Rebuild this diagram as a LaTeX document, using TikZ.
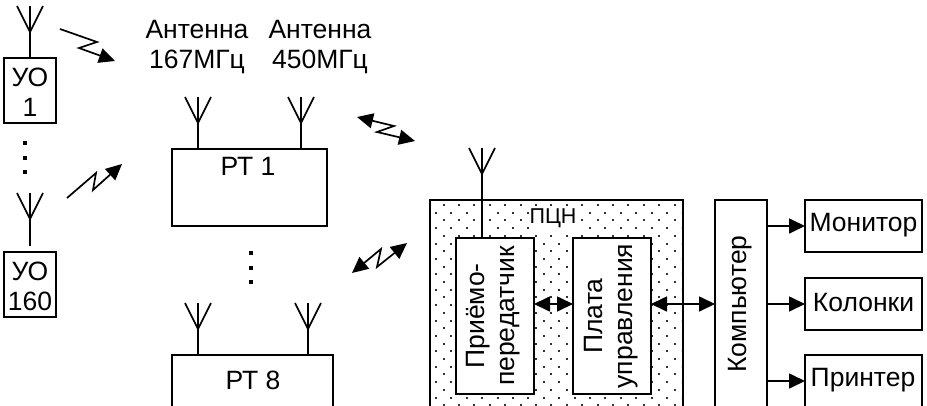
\documentclass[tikz,border=0pt]{standalone}
\usepackage{fontspec}
\setmainfont{Liberation Sans}
\usetikzlibrary{positioning,arrows.meta}

\tikzset{
	box/.style={rectangle, draw, line width=1.6pt, inner sep=0pt, outer sep=0pt, fill=white},
	txt/.style={font=\fontsize{26.5}{30}\selectfont, align=center, inner sep=0pt},
	wire/.style={line width=1.6pt},
	link/.style={line width=1.7pt, -{Triangle[length=16pt,width=15pt]}},
	biglink/.style={line width=1.7pt, {Triangle[length=16pt,width=15pt]}-{Triangle[length=16pt,width=15pt]}},
}

\begin{document}
\begin{tikzpicture}[x=1pt, y=-1pt]
	\useasboundingbox (0,0) rectangle (927,405);
	\clip (0,0) rectangle (927,405);
	% ПЦН
	\node[box, minimum width=253pt, minimum height=240pt] (PCN) at (556.5,320) {};
	\begin{scope}
		\clip (432,202) rectangle (681,405);
		\foreach \dr in {0,...,26} {
			\foreach \dc in {0,...,16} {
				\fill[black!80] ({443.5+15.4*\dc-1},{205+15.4*\dr-1}) rectangle ++(2,2);
				\fill[black!80] ({436+15.4*\dc-1},{212.7+15.4*\dr-1}) rectangle ++(2,2);
			}
		}
	\end{scope}
	\node[inner sep=1pt, fill=white, font=\fontsize{21.5}{24}\selectfont] (PCNlabel) at (553,218) {ПЦН};
	% boxes
	\node[box, minimum width=52pt, minimum height=65pt] (UO1) at (30,90.5) {};
	\node[txt] at (30,92) {УО\\1};
	\node[box, minimum width=52pt, minimum height=65pt] (UO160) at (30,284.5) {};
	\node[txt] at (30,286) {УО\\160};
	\node[box, minimum width=155pt, minimum height=77pt] (RT1) at (249.5,187.5) {};
	\node[txt] at (248,166) {РТ 1};
	\node[box, minimum width=161pt, minimum height=70pt] (RT8) at (252.5,390) {};
	\node[txt] at (253,380) {РТ 8};
	\node[txt] (A167) at (197,47) {Антенна\\167МГц};
	\node[txt] (A450) at (320,47) {Антенна\\450МГц};
	\node[box, minimum width=78pt, minimum height=156pt] (TR) at (495,316) {};
	\node[txt, rotate=90] at (493,316) {Приёмо-\\передатчик};
	\node[box, minimum width=78pt, minimum height=156pt] (PU) at (612,316) {};
	\node[txt, rotate=90] at (611,316) {Плата\\управления};
	\node[box, minimum width=52pt, minimum height=230pt] (PC) at (741,315) {};
	\node[txt, rotate=90] at (740,304) {Компьютер};
	\node[box, minimum width=117pt, minimum height=52pt] (MON) at (863.5,226) {};
	\node[txt] at (863.5,225) {Монитор};
	\node[box, minimum width=117pt, minimum height=52pt] (KOL) at (863.5,304) {};
	\node[txt] at (863.5,303) {Колонки};
	\node[box, minimum width=117pt, minimum height=70pt] (PRN) at (863.5,390) {};
	\node[txt] at (863,380) {Принтер};
	% antennas
	\foreach \an/\ax/\ay/\bx in {a/30/6/UO1, c/198/97/RT1, d/301/97/RT1, e/198/303/RT8, f/308/303/RT8, g/482/148/TR} {
		\coordinate (ant\an) at (\ax,\ay);
		\draw[wire] (\ax-13,\ay) -- (\ax,\ay+26) -- (\ax+13,\ay);
		\draw[wire] (ant\an) -- (ant\an |- \bx.north);
	}
	\coordinate (antb) at (30,193);
	\coordinate (antbend) at (30,246);
	\draw[wire] (17,193) -- (30,219) -- (43,193);
	\draw[wire] (antb) -- (antbend);
	% dots
	\foreach \dy in {143,158,172} {
		\fill (23,\dy-2) rectangle ++(4,4);
		\fill (249,\dy+108) rectangle ++(4,4);
	}
	% radio links
	\coordinate (z1a) at (60,29);
	\coordinate (z1b) at (97,42);
	\coordinate (z1c) at (79,48);
	\coordinate (z1d) at (115,61);
	\draw[link] (z1a) -- (z1b) -- (z1c) -- (z1d);
	\coordinate (z2a) at (67,198);
	\coordinate (z2b) at (96,173);
	\coordinate (z2c) at (93,190);
	\coordinate (z2d) at (122,164);
	\draw[link] (z2a) -- (z2b) -- (z2c) -- (z2d);
	\coordinate (z3a) at (357,117);
	\coordinate (z3b) at (394,126);
	\coordinate (z3c) at (377,132);
	\coordinate (z3d) at (415,141);
	\draw[biglink] (z3a) -- (z3b) -- (z3c) -- (z3d);
	\coordinate (z4a) at (352,273);
	\coordinate (z4b) at (381,249);
	\coordinate (z4c) at (377,267);
	\coordinate (z4d) at (407,243);
	\draw[biglink] (z4a) -- (z4b) -- (z4c) -- (z4d);
	% connections
	\draw[biglink] (TR.east |- 0,304) -- (PU.west |- 0,304);
	\draw[biglink] (PU.east |- 0,304) -- (PC.west |- 0,304);
	\draw[link] (PC.east |- MON) -- (MON);
	\draw[link] (PC.east |- KOL) -- (KOL);
	\draw[link] (PC.east |- 0,381) -- (PRN.west |- 0,381);
\end{tikzpicture}
\end{document}
